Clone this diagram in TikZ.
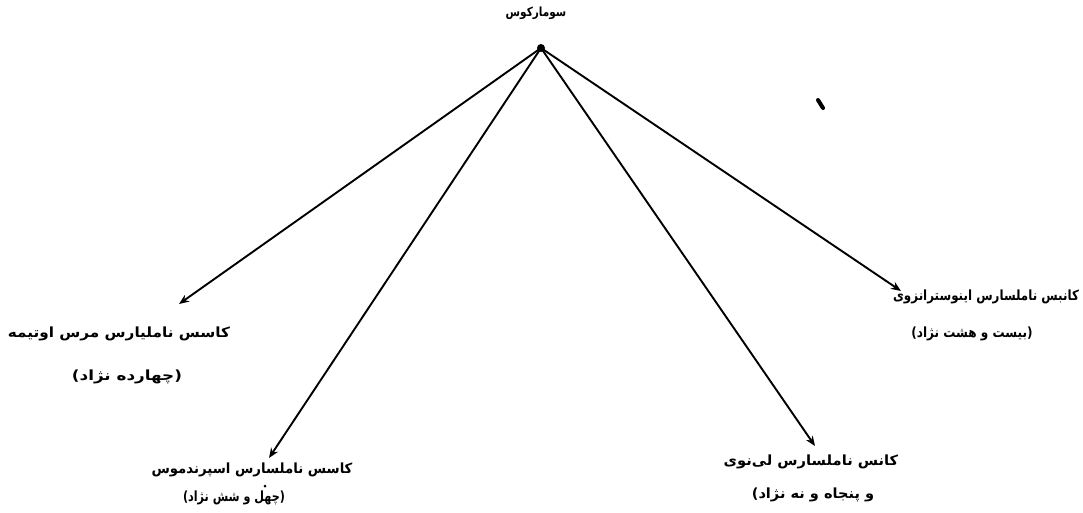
\documentclass[tikz,border=0pt]{standalone}
\usepackage{fontspec}
\usepackage{graphicx}
\usetikzlibrary{arrows.meta}
\TeXXeTstate=1
\newfontfamily\arabicfont[Script=Arabic]{DejaVu Sans}
\tikzset{
  lbl/.style={inner sep=0pt, font=\arabicfont\bfseries\fontsize{14}{16}\selectfont},
  arr/.style={line width=1.9pt, -{Stealth[length=10pt,width=8pt]}}
}
\begin{document}
\begin{tikzpicture}[x=1pt,y=-1pt]
\useasboundingbox (0,0) rectangle (1083,512);
\node[lbl] (root) at (536,13) {\scalebox{0.75}[0.9]{\beginR سومارکوس\endR}};
\fill (541,48) circle (4pt);
\coordinate (o) at (541,48);
\coordinate (tl) at (179,304);
\coordinate (tbl) at (269,458);
\coordinate (tbr) at (815,446);
\coordinate (tr) at (901,291);
\draw[arr] (o) -- (tl);
\draw[arr] (o) -- (tbl);
\draw[arr] (o) -- (tbr);
\draw[arr] (o) -- (tr);
\node[lbl] (l1) at (119,334) {\scalebox{1.09}[1]{\beginR کاسس ناملیارس مرس اوتیمه\endR}};
\node[lbl] (l2) at (127,377) {\scalebox{1.2}[1]{\beginR (چهارده نژاد)\endR}};
\node[lbl] (bl1) at (252,470) {\scalebox{0.95}[1]{\beginR کاسس ناملسارس اسپرندموس\endR}};
\fill (265,486) circle (1.5pt);
\node[lbl] (bl2) at (234,498) {\scalebox{0.8}[1]{\beginR (چهل و شش نژاد)\endR}};
\node[lbl] (br1) at (811,462) {\scalebox{1.05}[1]{\beginR کانس ناملسارس لی‌نوی\endR}};
\node[lbl] (br2) at (813,495) {\scalebox{1.04}[1]{\beginR و پنجاه و نه نژاد)\endR}};
\node[lbl] (r1) at (986,297) {\scalebox{0.85}[1]{\beginR کانبس ناملسارس اینوسترانزوی\endR}};
\node[lbl] (r2) at (972,334) {\scalebox{0.86}[1]{\beginR (بیست و هشت نژاد)\endR}};
\draw[line width=4pt, line cap=round] (818,100) -- (823,108);
\end{tikzpicture}
\end{document}
